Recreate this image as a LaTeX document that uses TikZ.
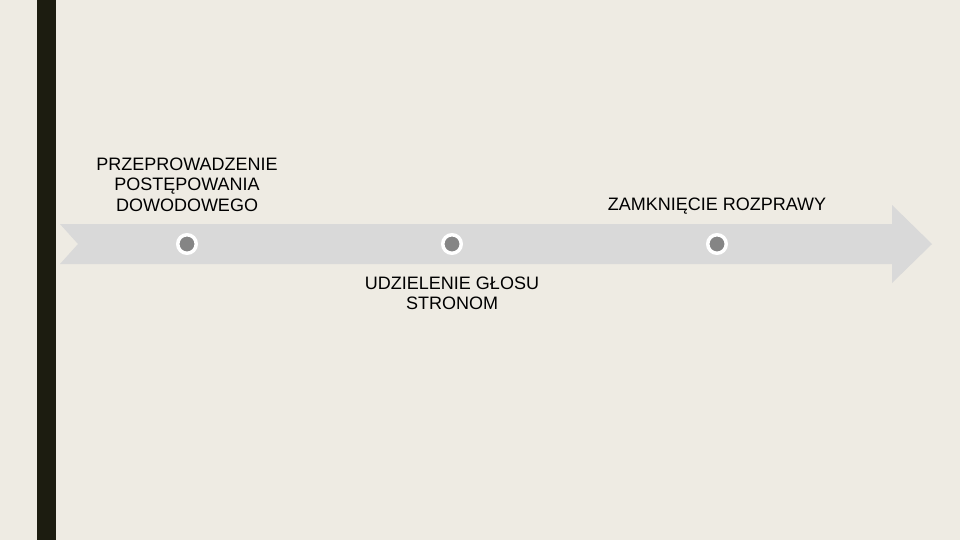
\documentclass[tikz,border=0pt]{standalone}
\usepackage{fontspec}
\setmainfont{Liberation Sans}
\usetikzlibrary{positioning}

\definecolor{slidebg}{HTML}{EEEBE3}
\definecolor{barcol}{HTML}{1C1C10}
\definecolor{arrowcol}{HTML}{D9D9D9}
\definecolor{dotcol}{HTML}{858585}

\begin{document}
\begin{tikzpicture}[x=0.75pt,y=-0.75pt,
		steplabel/.style={align=center,inner sep=0pt,font=\fontsize{13.5}{15.4}\selectfont},
		dot/.style={circle,fill=dotcol,draw=white,line width=2.6pt,minimum size=13.9pt,inner sep=0pt}]
		
		% Slide background and left bar
		\fill[slidebg] (0,0) rectangle (960,540);
		\fill[barcol] (37,0) rectangle (56,540);
		
		% Timeline arrow
		\fill[arrowcol] (60,224) -- (892,224) -- (892,205) -- (932,244) -- (892,283)
			-- (892,264) -- (60,264) -- (78,244) -- cycle;
		
		% Points on the timeline
		\foreach \x/\n in {187/a, 452/b, 717/c} {
			\node[dot] (dot\n) at (\x,244) {};
		}
		
		% Labels
		\node[steplabel, above=16pt of dota] (przeprowadzenie) {PRZEPROWADZENIE\\POSTĘPOWANIA\\DOWODOWEGO};
		\node[steplabel, below=16pt of dotb] (udzielenie) {UDZIELENIE GŁOSU\\STRONOM};
		\node[steplabel, above=13.5pt of dotc] (zamkniecie) {ZAMKNIĘCIE ROZPRAWY};
	\end{tikzpicture}
\end{document}
